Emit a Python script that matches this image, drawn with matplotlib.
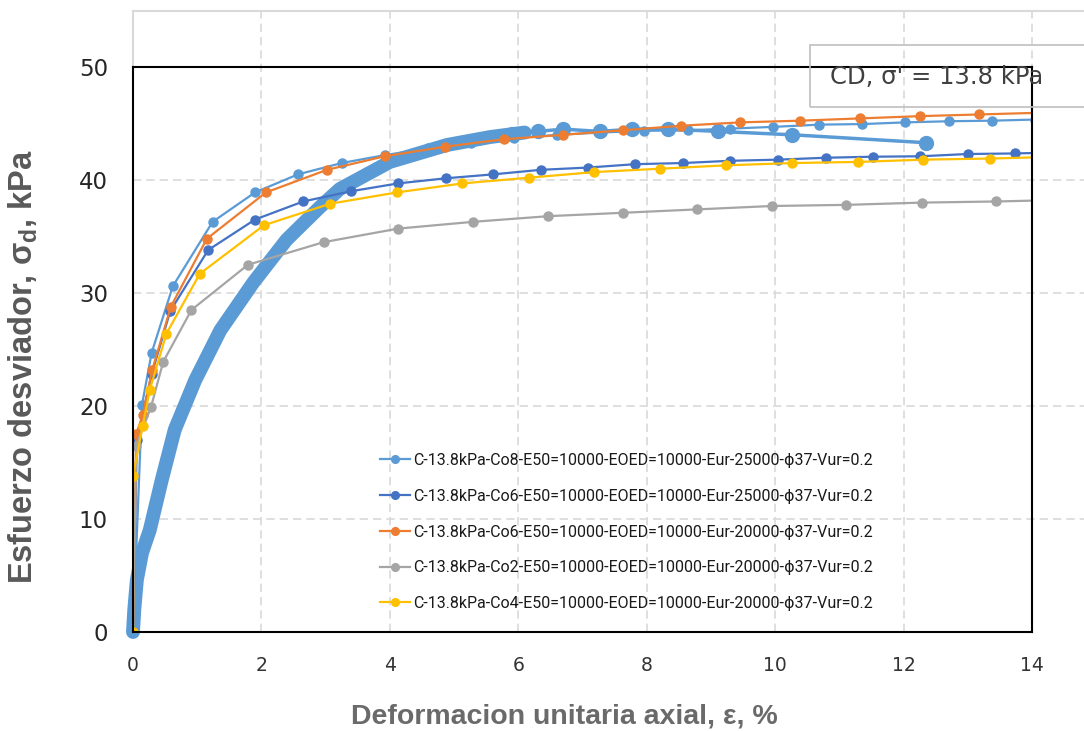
import matplotlib.pyplot as plt
from matplotlib.patches import Rectangle

# --- data ---
# laboratory curve (dense band + sparse tail)
lab_x = [0, 0.02, 0.06, 0.14, 0.26, 0.45, 0.65, 0.97, 1.36, 1.87, 2.39, 2.91, 3.22, 4.0, 4.89, 5.56, 6.1]
lab_y = [0, 2.0, 4.6, 7.0, 9.0, 13.5, 17.9, 22.3, 26.7, 30.9, 34.7, 37.6, 39.2, 41.6, 43.1, 43.8, 44.2]
tail_x = [5.9, 6.3, 6.7, 7.27, 7.77, 8.33, 9.11, 10.27, 12.35]
tail_y = [44.1, 44.3, 44.5, 44.3, 44.5, 44.5, 44.3, 44.0, 43.3]

co8_x = [0, 0.14, 0.29, 0.62, 1.24, 1.90, 2.57, 3.25, 3.92, 4.60, 5.27, 5.94, 6.61, 7.28, 7.96,
         8.65, 9.30, 9.97, 10.69, 11.36, 12.03, 12.71, 13.38, 14.05]
co8_y = [0, 20.1, 24.7, 30.6, 36.3, 38.9, 40.5, 41.5, 42.2, 42.8, 43.3, 43.7, 44.0, 44.2, 44.35,
         44.4, 44.55, 44.7, 44.9, 44.95, 45.1, 45.2, 45.25, 45.35]

co6_x = [0, 0.06, 0.29, 0.58, 1.17, 1.90, 2.65, 3.39, 4.13, 4.87, 5.61, 6.35, 7.08, 7.82, 8.56,
         9.30, 10.04, 10.79, 11.52, 12.26, 13.0, 13.74, 14.48]
co6_y = [0, 17.0, 22.8, 28.4, 33.8, 36.5, 38.1, 39.0, 39.7, 40.15, 40.5, 40.9, 41.1, 41.4, 41.5,
         41.7, 41.8, 41.97, 42.06, 42.1, 42.3, 42.35, 42.45]

co6b_x = [0, 0.05, 0.15, 0.30, 0.59, 1.15, 2.07, 3.02, 3.92, 4.86, 5.77, 6.70, 7.63, 8.53, 9.46,
          10.39, 11.32, 12.25, 13.18, 14.11]
co6b_y = [0, 17.5, 19.2, 23.2, 28.8, 34.8, 38.9, 40.9, 42.1, 42.95, 43.6, 44.0, 44.4, 44.8, 45.1,
          45.25, 45.45, 45.65, 45.8, 45.95]

co2_x = [0, 0.05, 0.28, 0.47, 0.91, 1.79, 2.97, 4.13, 5.30, 6.47, 7.63, 8.79, 9.95, 11.11, 12.28, 13.44, 14.6]
co2_y = [0, 16.5, 19.9, 23.9, 28.5, 32.5, 34.5, 35.7, 36.3, 36.8, 37.1, 37.4, 37.7, 37.8, 38.0, 38.1, 38.25]

co4_x = [0, 0, 0.15, 0.26, 0.52, 1.04, 2.04, 3.07, 4.11, 5.13, 6.16, 7.18, 8.21, 9.24, 10.27,
         11.29, 12.31, 13.35, 14.37]
co4_y = [0, 13.8, 18.2, 21.4, 26.4, 31.7, 36.0, 37.9, 38.9, 39.7, 40.2, 40.7, 41.0, 41.3, 41.5,
         41.6, 41.8, 41.9, 42.05]

labels = [
    "C-13.8kPa-Co8-E50=10000-EOED=10000-Eur-25000-\u03d537-Vur=0.2",
    "C-13.8kPa-Co6-E50=10000-EOED=10000-Eur-25000-\u03d537-Vur=0.2",
    "C-13.8kPa-Co6-E50=10000-EOED=10000-Eur-20000-\u03d537-Vur=0.2",
    "C-13.8kPa-Co2-E50=10000-EOED=10000-Eur-20000-\u03d537-Vur=0.2",
    "C-13.8kPa-Co4-E50=10000-EOED=10000-Eur-20000-\u03d537-Vur=0.2",
]
colors = ["#5B9BD5", "#4472C4", "#ED7D31", "#A5A5A5", "#FFC000"]
x_ticks = [0, 2, 4, 6, 8, 10, 12, 14]
y_ticks = [0, 10, 20, 30, 40, 50]

# --- figure ---
fig = plt.figure(figsize=(10.84, 7.31), dpi=100)
ax = fig.add_axes([133 / 1084, 1 - 632 / 731, 899 / 1084, 565 / 731])
ax.set_xlim(0, 14)
ax.set_ylim(0, 50)

# grid of the underlying chart, partly outside the frame
grid_c = "#D9D9D9"
for gx in x_ticks[1:]:
    ax.plot([gx, gx], [0, 55], color=grid_c, lw=1.2, ls=(0, (5, 3)), clip_on=False, zorder=0)
for gy in y_ticks[1:-1]:
    ax.plot([0, 15], [gy, gy], color=grid_c, lw=1.2, ls=(0, (5, 3)), clip_on=False, zorder=0)
ax.plot([0, 15], [55, 55], color=grid_c, lw=1.5, clip_on=False, zorder=0)
ax.plot([0, 0], [50, 55], color=grid_c, lw=1.5, clip_on=False, zorder=0)

# lab curve
ax.plot(lab_x, lab_y, color="#5B9BD5", lw=10, solid_capstyle="round", zorder=2, clip_on=False)
ax.plot(tail_x, tail_y, color="#5B9BD5", lw=2.5, marker="o", ms=10, zorder=2)

series = [(co8_x, co8_y), (co6_x, co6_y), (co6b_x, co6b_y), (co2_x, co2_y), (co4_x, co4_y)]
handles = []
for (sx, sy), c, lab in zip(series, colors, labels):
    h, = ax.plot(sx, sy, color=c, lw=1.6, marker="o", ms=6.5, label=lab, zorder=3)
    handles.append(h)

for s in ax.spines.values():
    s.set_color("black")
    s.set_linewidth(1.5)
    s.set_zorder(4)
ax.set_xticks(x_ticks)
ax.set_yticks(y_ticks)
ax.tick_params(axis="both", length=0)
ax.tick_params(axis="y", labelsize=16.5, pad=18, labelcolor="#262626")
ax.tick_params(axis="x", labelsize=13.5, pad=17, labelcolor="#333333")

ax.set_ylabel("Esfuerzo desviador, \u03c3$_\\mathregular{d}$, kPa", fontsize=23.5,
              fontweight="bold", color="#595959", family="Liberation Sans", labelpad=0)
ax.yaxis.set_label_coords(-0.104, 0.47)
ax.set_xlabel("Deformacion unitaria axial, \u03b5, %", fontsize=20.5, fontweight="bold",
              color="#6A6A6A", family="Liberation Sans")
ax.xaxis.set_label_coords(0.48, -0.127)

leg = ax.legend(handles=handles, loc="upper left", bbox_to_anchor=(380 / 1084, 1 - 453 / 731),
                bbox_transform=fig.transFigure, frameon=False, borderpad=0, borderaxespad=0,
                handlelength=1.85, handletextpad=0.2, labelspacing=1.3, markerscale=0.85,
                prop={"family": ["Roboto", "DejaVu Sans"], "size": 11.5})
for t in leg.get_texts():
    t.set_color("#1A1A1A")

# annotation box
fig.patches.append(Rectangle((810 / 1084, 1 - 107 / 731), 300 / 1084, 62 / 731,
                             transform=fig.transFigure, fill=False, ec="#BFBFBF", lw=1.2))
fig.text(830 / 1084, 1 - 77 / 731, "CD, \u03c3' = 13.8 kPa", fontsize=17.5, color="#404040",
         va="center", ha="left")

fig.savefig("out.png", dpi=100)
